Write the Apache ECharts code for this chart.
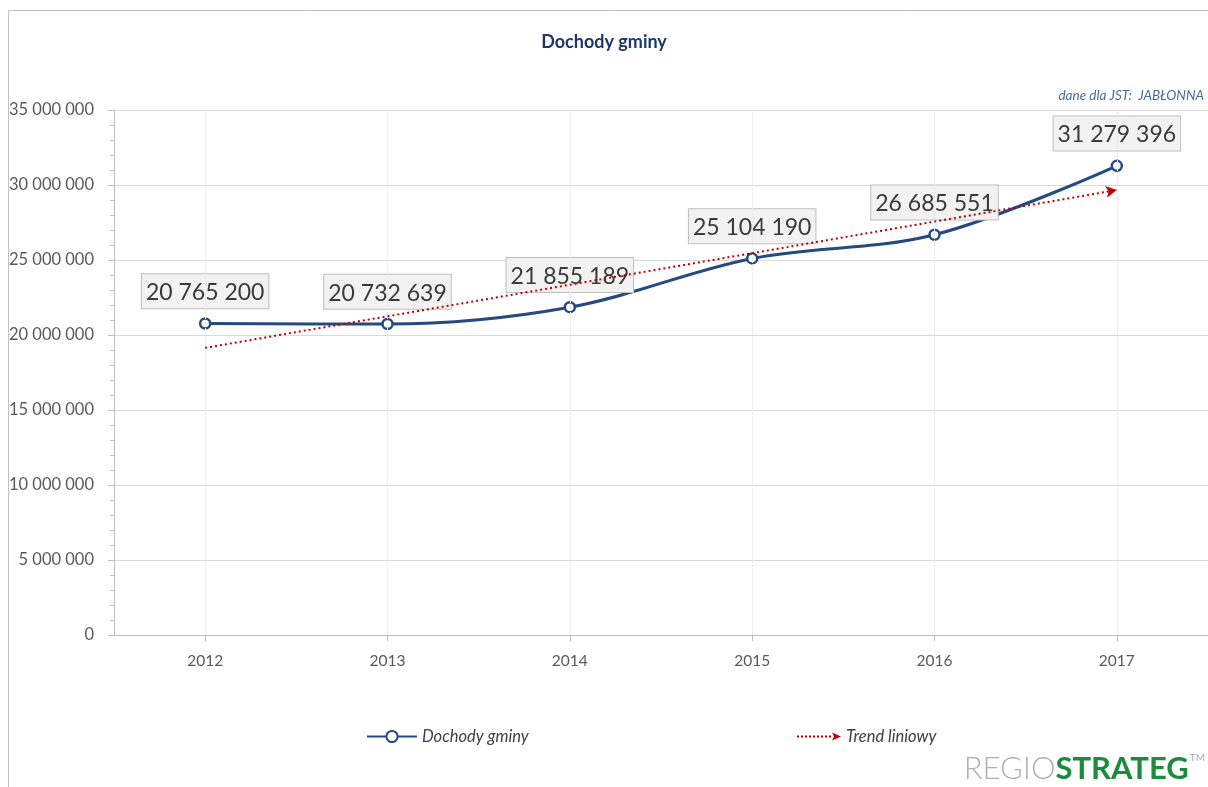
<!DOCTYPE html>
<html>
<head>
<meta charset="utf-8">
<script src="https://cdn.jsdelivr.net/npm/echarts@6/dist/echarts.min.js"></script>
<style>
  html, body { margin: 0; padding: 0; background: #fff; }
  #chart { width: 1208px; height: 787px; }
</style>
</head>
<body>
<div id="chart"></div>
<script>
// Budget revenue of the municipality, 2012–2017
const categories = ['2012', '2013', '2014', '2015', '2016', '2017'];
const income = [20765200, 20732639, 21855189, 25104190, 26685551, 31279396];
// Linear trend: value at the first and at the last year
const trendStart = 19141000;
const trendEnd = 29666000;
const yMin = 0;
const yMax = 35000000;
const yStep = 5000000;

const FONT = 'Lato, "Open Sans", sans-serif';
const fmt = v => String(Math.round(v)).replace(/\B(?=(\d{3})+(?!\d))/g, ' ');

const chart = echarts.init(document.getElementById('chart'), null, { renderer: 'canvas' });

const trendIcon = 'path://M0 4h2v2h-2zM4 4h2v2h-2zM8 4h2v2h-2zM12 4h2v2h-2zM16 4h2v2h-2zM20 4h2v2h-2zM24 4h2v2h-2zM28 4h2v2h-2zM32 4h2v2h-2zM35 1L44 5L35 9L37 5Z';

chart.setOption({
  animation: false,
  backgroundColor: '#fff',
  textStyle: { fontFamily: FONT },
  title: {
    text: 'Dochody gminy',
    left: 'center',
    top: 28,
    textStyle: { fontFamily: FONT, fontSize: 18, fontWeight: 'bold', color: '#1c3868' }
  },
  graphic: [
    {
      type: 'rect', silent: true, z: -10,
      shape: { x: 8.5, y: 10.5, width: 1400, height: 1000 },
      style: { fill: 'none', stroke: '#c0c0c0', lineWidth: 1 }
    },
    {
      type: 'text', right: 4, top: 89,
      style: { text: 'dane dla JST:  JABŁONNA', fontFamily: FONT, fontSize: 13.5, fontStyle: 'italic', fill: '#4a6a9c' }
    },
    {
      type: 'text', right: 3, top: 753,
      style: {
        text: '{a|REGIO}{b|STRATEG}{c|TM}',
        rich: {
          a: { fontFamily: FONT, fontSize: 31, fontWeight: 300, fill: '#b0b0b0' },
          b: { fontFamily: FONT, fontSize: 31, fontWeight: 'bold', fill: '#1d8a3e' },
          c: { fontFamily: FONT, fontSize: 10, fill: '#aaaaaa', verticalAlign: 'top', padding: [0, 0, 16, 1] }
        }
      }
    }
  ],
  legend: [
    {
      left: 361, top: 723,
      data: [{ name: 'Dochody gminy' }],
      itemWidth: 50, itemHeight: 14, itemGap: 6,
      textStyle: { fontFamily: FONT, fontSize: 16.5, fontStyle: 'italic', color: '#404040' }
    },
    {
      left: 792, top: 723,
      data: [{ name: 'Trend liniowy', icon: trendIcon }],
      itemWidth: 44, itemHeight: 10,
      textStyle: { fontFamily: FONT, fontSize: 16.5, fontStyle: 'italic', color: '#404040' }
    }
  ],
  grid: { left: 114, right: -2, top: 110, bottom: 152, containLabel: false },
  xAxis: {
    type: 'category',
    data: categories,
    boundaryGap: true,
    axisLine: { lineStyle: { color: '#bfbfbf', width: 1 } },
    axisTick: { show: true, alignWithLabel: true, length: 6, lineStyle: { color: '#bfbfbf' } },
    axisLabel: { fontFamily: FONT, fontSize: 15.5, color: '#595959', margin: 18 },
    splitLine: { show: false }
  },
  yAxis: {
    type: 'value',
    min: yMin, max: yMax, interval: yStep,
    axisLine: { show: true, lineStyle: { color: '#bfbfbf', width: 1 } },
    axisTick: { show: true, length: 6, lineStyle: { color: '#bfbfbf' } },
    minorTick: { show: true, splitNumber: 5, length: 4, lineStyle: { color: '#bfbfbf' } },
    axisLabel: { fontFamily: FONT, fontSize: 16.5, color: '#595959', margin: 20, formatter: fmt },
    splitLine: { show: true, lineStyle: { color: '#d9d9d9', width: 1 } }
  },
  series: [
    {
      // vertical guides at each year
      name: 'guides',
      type: 'line',
      data: [],
      z: 0,
      silent: true,
      markLine: {
        silent: true,
        symbol: ['none', 'none'],
        label: { show: false },
        lineStyle: { color: '#e8e8e8', width: 1, type: [3, 1] },
        data: categories.map(c => ({ xAxis: c }))
      }
    },
    {
      name: 'Dochody gminy',
      type: 'line',
      data: income,
      smooth: 0.35,
      z: 2,
      symbol: 'circle',
      symbolSize: 10,
      lineStyle: { color: '#264a7e', width: 3 },
      itemStyle: { color: '#fff', borderColor: '#264a7e', borderWidth: 2.5 },
      label: {
        show: true,
        position: 'top',
        distance: 9,
        formatter: p => fmt(p.value),
        fontFamily: FONT,
        fontSize: 23,
        color: '#3a3a3a',
        backgroundColor: '#f2f2f2',
        borderColor: '#bfbfbf',
        borderWidth: 1,
        padding: [7, 4, 4, 4]
      }
    },
    {
      name: 'Trend liniowy',
      type: 'line',
      data: [trendStart, null, null, null, null, trendEnd],
      connectNulls: true,
      showSymbol: false,
      z: 3,
      itemStyle: { color: '#c00000' },
      lineStyle: { opacity: 0, width: 0 },
      markLine: {
        silent: true,
        symbol: ['none', 'arrow'],
        symbolSize: [9, 11],
        label: { show: false },
        lineStyle: { color: '#c00000', width: 2, type: [2, 3] },
        itemStyle: { color: '#c00000' },
        data: [[
          { coord: [categories[0], trendStart] },
          { coord: [categories[categories.length - 1], trendEnd] }
        ]]
      }
    }
  ]
});
</script>
</body>
</html>
